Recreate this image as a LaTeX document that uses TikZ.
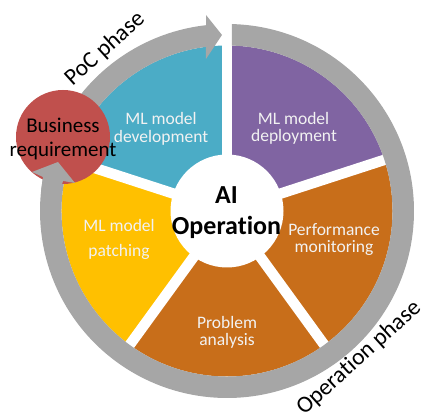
\documentclass[tikz,border=0pt]{standalone}
\usepackage{fontspec}
\usetikzlibrary{calc}
\setmainfont{Carlito}[Ligatures=CommonOff]
\definecolor{blueW}{HTML}{4BACC6}
\definecolor{purpleW}{HTML}{8064A2}
\definecolor{orangeW}{HTML}{C86E1A}
\definecolor{yellowW}{HTML}{FFC000}
\definecolor{redC}{HTML}{C0504D}
\definecolor{ringG}{HTML}{A6A6A6}
\definecolor{softW}{HTML}{F2F2F2}
\tikzset{
  wedgelabel/.style={text=softW,font=\fontsize{17.5}{20}\selectfont,inner sep=0pt},
  phaselabel/.style={text=black,font=\fontsize{23.5}{28}\selectfont,inner sep=0pt,rotate=42},
  gapline/.style={white,line width=10.5pt},
  hublabel/.style={text=black,font=\fontsize{26}{30}\selectfont\bfseries,inner sep=0pt},
  bizlabel/.style={text=black,font=\fontsize{21}{25}\selectfont,inner sep=0pt}
}
\begin{document}
\begin{tikzpicture}[x=1pt,y=1pt]
\useasboundingbox (0,0) rectangle (424,417);
\coordinate (c) at (227,206);
% wedges
\fill[blueW]   (c) -- ++(90:165.5pt)  arc[start angle=90,end angle=162,radius=165.5pt] -- cycle;
\fill[purpleW] (c) -- ++(18:165.5pt)  arc[start angle=18,end angle=90,radius=165.5pt] -- cycle;
\fill[orangeW] (c) -- ++(-54:165.5pt) arc[start angle=-54,end angle=18,radius=165.5pt] -- cycle;
\fill[orangeW] (c) -- ++(-126:165.5pt) arc[start angle=-126,end angle=-54,radius=165.5pt] -- cycle;
\fill[yellowW] (c) -- ++(162:165.5pt) arc[start angle=162,end angle=234,radius=165.5pt] -- cycle;
% gaps
\foreach \a in {90,18,-54,-126,162}{
  \draw[gapline] (c) -- ++(\a:168pt);
}
\node[circle,fill=white,minimum size=113pt,inner sep=0pt] (hub) at (c) {};
% PoC arrow
\fill[ringG] ($(c)+(150:187pt)$) arc[start angle=150,end angle=96.4,radius=187pt]
  -- (206,402) -- (222,382) -- (206,358)
  -- ($(c)+(97.3:165.5pt)$) arc[start angle=97.3,end angle=150,radius=165.5pt] -- cycle;
% Operation ring
\fill[ringG] ($(c)+(88.5:187pt)$) arc[start angle=88.5,end angle=-190.5,radius=187pt]
  -- ($(c)+(-190.5:165.5pt)$) arc[start angle=-190.5,end angle=88.3,radius=165.5pt] -- cycle;
% business circle
\node[circle,fill=redC,minimum size=94pt,inner sep=0pt] (biz) at (63,280) {};
\fill[ringG] (32,245) -- (58,255) -- (75,234) -- (63,236) -- (60,225) -- (41,225) -- (43,240) -- cycle;
% texts
\node[wedgelabel] (t1) at (161,299) {ML model};
\node[wedgelabel] (t2) at (161,279.5) {development};
\node[wedgelabel] (t3) at (293.5,299) {ML model};
\node[wedgelabel] (t4) at (294,280) {deployment};
\node[wedgelabel] (t5) at (334,187.5) {Performance};
\node[wedgelabel] (t6) at (334,169) {monitoring};
\node[wedgelabel] (t7) at (119,192) {ML model};
\node[wedgelabel] (t8) at (119,165) {patching};
\node[wedgelabel] (t9) at (227,94.5) {Problem};
\node[wedgelabel] (t10) at (227,76) {analysis};
\node[hublabel] (ai1) at (226.5,222) {AI};
\node[hublabel] (ai2) at (226.5,190) {Operation};
\node[bizlabel] (b1) at (63,292) {Business};
\node[bizlabel] (b2) at (63,266) {requirement};
\node[phaselabel] (poc) at (105,368) {PoC phase};
\node[phaselabel] (op) at (359,59) {Operation phase};
\end{tikzpicture}
\end{document}
